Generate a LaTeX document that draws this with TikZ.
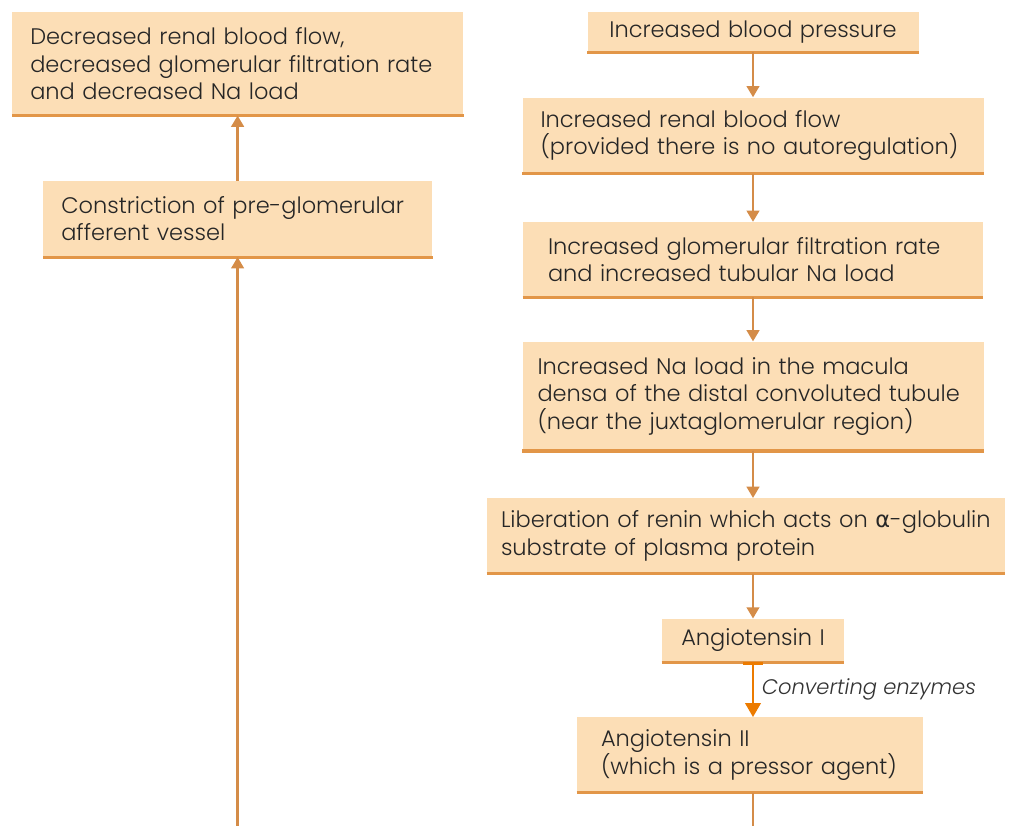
\documentclass[tikz,border=0pt]{standalone}
\usepackage{fontspec}
\setmainfont{Poppins}[UprightFont=* Light, ItalicFont=* Light Italic]
\newfontfamily\greekfont{DejaVu Sans}
\usetikzlibrary{positioning,arrows.meta}
\definecolor{peach}{RGB}{252,222,182}
\definecolor{rule}{RGB}{226,150,72}
\definecolor{arrowor}{RGB}{212,140,72}
\definecolor{brightor}{RGB}{236,123,0}

\tikzset{
  flow/.style={fill=peach, align=left, inner xsep=0.45cm, inner ysep=0pt,
    text=black!85, font=\fontsize{16}{19.5}\selectfont},
  link/.style={draw=arrowor, line width=1.6pt, -{Triangle[width=9pt,length=8pt]}},
}

\begin{document}
\begin{tikzpicture}[node distance=1.125cm]
  \useasboundingbox (0,0) rectangle (25.275,-20.65);

  % left column
  \node[flow, anchor=north west, text width=10.375cm, minimum height=2.575cm] (dec) at (0.3,-0.3)
    {Decreased renal blood flow,\\ decreased glomerular filtration rate\\ and decreased Na load};
  \node[flow, below=1.625cm of dec, text width=8.825cm, minimum height=1.9cm] (constr)
    {Constriction of pre-glomerular\\ afferent vessel};

  % right column
  \node[flow, align=center, text width=7.375cm, minimum height=1cm] (bp) at (18.825,-0.8)
    {Increased blood pressure};
  \node[flow, below=of bp, text width=10.625cm, minimum height=1.9cm] (renal)
    {Increased renal blood flow\\ (provided there is no autoregulation)};
  \node[flow, below=1.2cm of renal, inner xsep=0.625cm, text width=10.25cm, minimum height=1.875cm] (gfr)
    {Increased glomerular filtration rate\\ and increased tubular Na load};
  \node[flow, below=1.1cm of gfr, inner xsep=0.375cm, text width=10.775cm, minimum height=2.725cm] (na)
    {Increased Na load in the macula\\ densa of the distal convoluted tubule\\ (near the juxtaglomerular region)};
  \node[flow, below=1.175cm of na, xshift=-0.175cm, inner xsep=0.35cm, text width=12.25cm, minimum height=1.875cm] (renin)
    {\mbox{Liberation of renin which acts on {\greekfont α}-globulin}\\ substrate of plasma protein};
  \node[flow, below=1.125cm of renin, xshift=0.175cm, align=center, text width=3.65cm, minimum height=1.075cm] (ang1)
    {Angiotensin I};
  \node[flow, below=1.375cm of ang1, xshift=-0.075cm, inner xsep=0.6cm, text width=7.45cm, minimum height=1.875cm] (ang2)
    {Angiotensin II\\ (which is a pressor agent)};

  % orange rules under the boxes
  \foreach \n in {dec,constr,bp,renal,gfr,na,renin,ang1,ang2}
    \draw[rule, line width=2.2pt] (\n.south west) -- (\n.south east);

  % free ends at the lower edge
  \coordinate (lowL) at (5.94,-20.65);
  \coordinate (lowR) at (ang2.south |- 0,-20.65);

  % arrows
  \draw[link] (bp) -- (renal);
  \draw[link] (renal) -- (gfr);
  \draw[link] (gfr) -- (na);
  \draw[link] (na) -- (renin.north -| na.south);
  \draw[link] (renin.south -| ang1.north) -- (ang1);
  \draw[brightor, line width=1.8pt, {Bar[width=14pt]}-{Triangle[width=11pt,length=10pt]}]
    (ang1) -- node[right=2pt, text=black!80, font=\fontsize{15}{17}\selectfont\itshape] (conv) {Converting enzymes} (ang2.north -| ang1.south);
  \draw[draw=arrowor, line width=1.6pt] (ang2.south -| ang1.south) -- (lowR -| ang1.south);
  \draw[link] (lowL) -- (constr.south -| lowL);
  \draw[link] (constr.north -| lowL) -- (dec.south -| lowL);
\end{tikzpicture}
\end{document}
